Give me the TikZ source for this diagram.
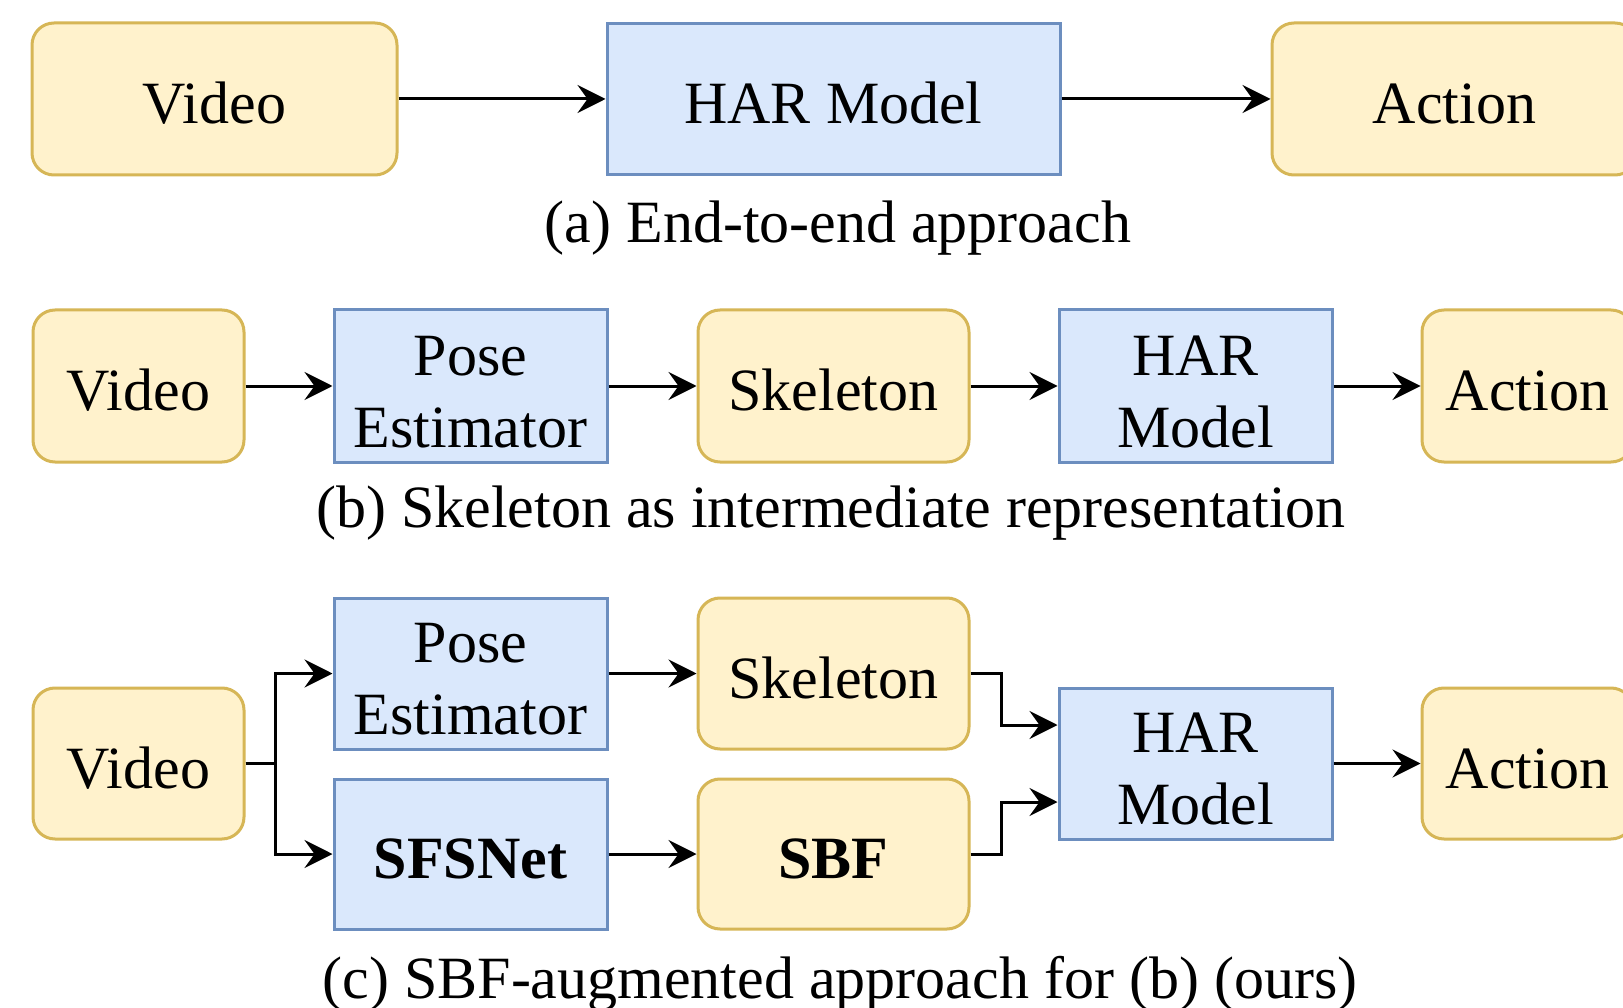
\documentclass[tikz,border=0pt]{standalone}
\usepackage{fontspec}
\setmainfont{Liberation Serif}
\usetikzlibrary{arrows.meta,calc}
\definecolor{yfill}{HTML}{FFF2CC}
\definecolor{ydraw}{HTML}{D6B656}
\definecolor{bfill}{HTML}{DAE8FC}
\definecolor{bdraw}{HTML}{6C8EBF}
\tikzset{
  boxbase/.style={line width=3pt, font=\fontsize{60}{72}\selectfont, align=center,
    inner sep=0pt},
  ybox/.style={boxbase, draw=ydraw, fill=yfill, rounded corners=22pt},
  bbox/.style={boxbase, draw=bdraw, fill=bfill},
  oneline/.style={text height=49pt, text depth=0pt},
  twoline/.style={text height=122pt, text depth=0pt},
  sz/.style 2 args={minimum width=#1pt, minimum height=#2pt},
  arr/.style={line width=3pt, -{Stealth[length=28pt, width=28pt, inset=10pt]}},
  captext/.style={anchor=base, font=\fontsize{60}{72}\selectfont, inner sep=0pt}
}
\begin{document}
\begin{tikzpicture}[x=1pt, y=-1pt]
\clip (0,0) rectangle (1623,1008);
\fill[white] (0,0) rectangle (1623,1008);

% (a) end-to-end
\node[ybox, oneline, sz={365}{152}] (aV) at (214.5,99) {Video};
\node[bbox, oneline, sz={453}{151}] (aH) at (833.5,99) {HAR Model};
\node[ybox, oneline, sz={365}{152}] (aA) at (1454.5,99) {Action};
\draw[arr] (aV) -- (aH);
\draw[arr] (aH) -- (aA);
\node[captext] (capA) at (838,243) {(a) End-to-end approach};

% (b) skeleton as intermediate representation
\node[ybox, oneline, sz={211}{152}] (bV) at (138.5,386) {Video};
\node[bbox, twoline, sz={273}{152}] (bP) at (470.5,386) {Pose\\Estimator};
\node[ybox, oneline, sz={271}{152}] (bK) at (833.5,386) {Skeleton};
\node[bbox, twoline, sz={273}{152}] (bH) at (1195.5,386) {HAR\\Model};
\node[ybox, oneline, sz={211}{152}] (bA) at (1527.5,386) {Action};
\draw[arr] (bV) -- (bP);
\draw[arr] (bP) -- (bK);
\draw[arr] (bK) -- (bH);
\draw[arr] (bH) -- (bA);
\node[captext] (capB) at (831,527) {(b) Skeleton as intermediate representation};

% (c) SBF-augmented pipeline
\node[ybox, oneline, sz={211}{151}] (cV) at (138.5,763.5) {Video};
\node[bbox, twoline, sz={273}{151}] (cP) at (470.5,673.5) {Pose\\Estimator};
\node[bbox, oneline, sz={273}{150}] (cS) at (470.5,854) {\bfseries SFSNet};
\node[ybox, oneline, sz={271}{151}] (cK) at (833.5,673.5) {Skeleton};
\node[ybox, oneline, sz={271}{150}] (cB) at (833.5,854) {\bfseries SBF};
\node[bbox, twoline, sz={273}{151}] (cH) at (1195.5,763.5) {HAR\\Model};
\node[ybox, oneline, sz={211}{151}] (cA) at (1527.5,763.5) {Action};
\draw[arr] (cV.east) -- ++(30,0) |- (cP.west);
\draw[arr] (cV.east) -- ++(30,0) |- (cS.west);
\draw[arr] (cP) -- (cK);
\draw[arr] (cS) -- (cB);
\draw[arr] (cK.east) -- ++(31,0) |- ($(cH.north west)!0.25!(cH.south west)$);
\draw[arr] (cB.east) -- ++(31,0) |- ($(cH.north west)!0.75!(cH.south west)$);
\draw[arr] (cH) -- (cA);
\node[captext] (capC) at (840,998) {(c) SBF-augmented approach for (b) (ours)};
\end{tikzpicture}
\end{document}
